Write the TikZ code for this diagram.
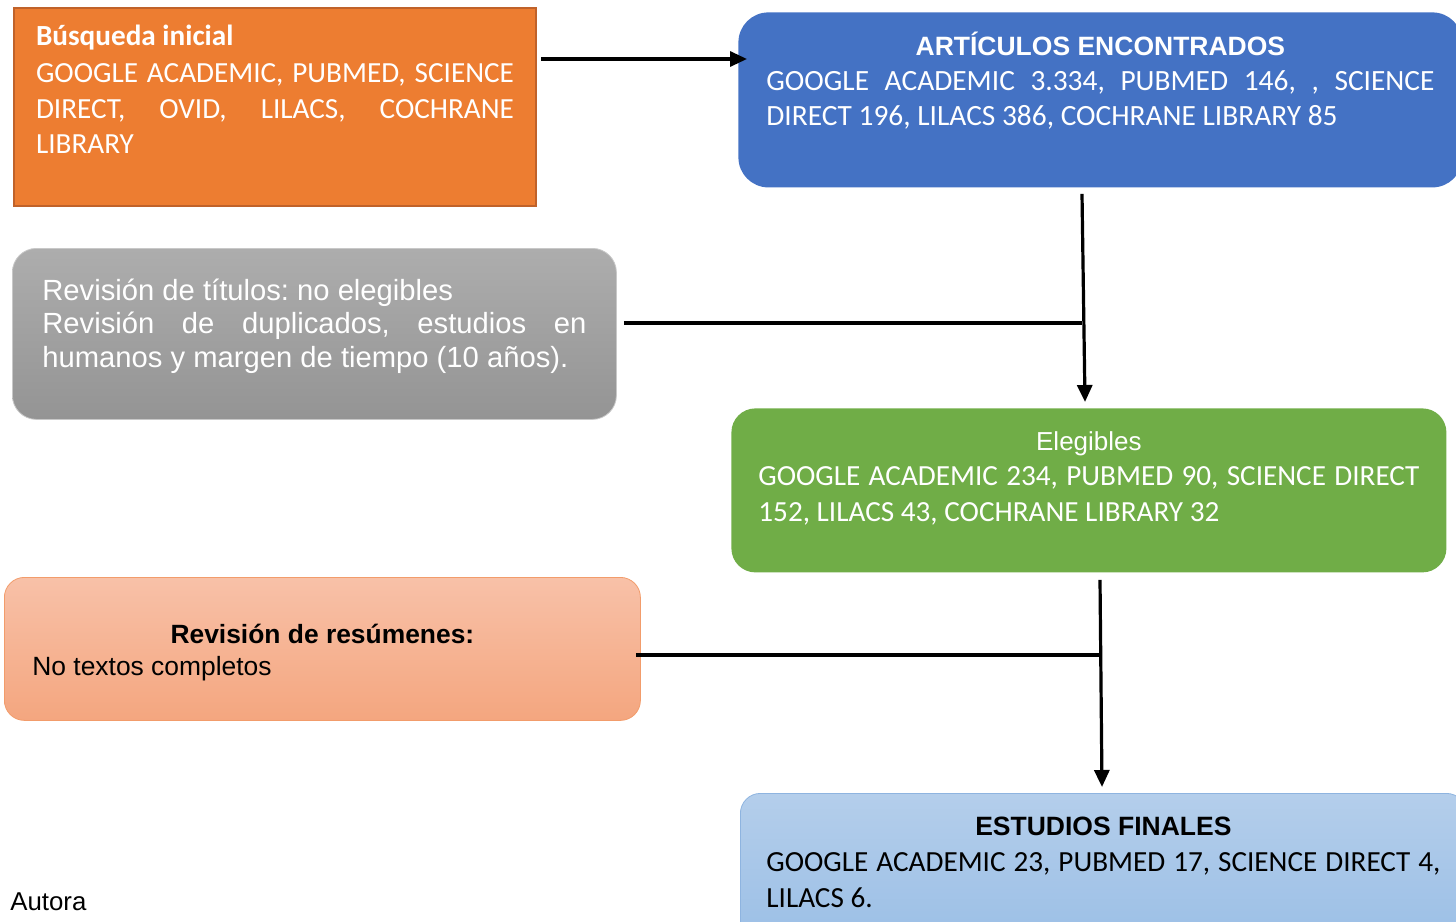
\documentclass[tikz,border=0pt]{standalone}
\usepackage{fontspec}
\usetikzlibrary{arrows.meta}
\newfontfamily\carl{Carlito}
\newfontfamily\arial{Liberation Sans}
\definecolor{orangeF}{HTML}{ED7D31}
\definecolor{orangeD}{HTML}{C0622A}
\definecolor{blueF}{HTML}{4472C4}
\definecolor{greenF}{HTML}{70AD47}
\definecolor{grayT}{HTML}{ADADAD}
\definecolor{grayB}{HTML}{949494}
\definecolor{grayE}{HTML}{C8C8C8}
\definecolor{salT}{HTML}{F8C1A8}
\definecolor{salB}{HTML}{F4A67F}
\definecolor{salE}{HTML}{F29C6B}
\definecolor{lbT}{HTML}{B4CEEB}
\definecolor{lbB}{HTML}{9BBFE6}
\definecolor{lbE}{HTML}{8EB4E0}
\tolerance=9999
\hbadness=10000
\frenchspacing

\begin{document}
\begin{tikzpicture}[x=0.5pt,y=-0.5pt,
  box/.style={anchor=north west,inner ysep=0pt,align=justify},
  flow/.style={line width=1.6pt,-{Triangle[length=8.5pt,width=7.5pt]}},
  link/.style={line width=1.6pt}]
\useasboundingbox (0,0) rectangle (1456,921);
% boxes
\node[box,fill=orangeF,draw=orangeD,line width=1pt,text=white,inner xsep=11pt,text width=239pt,text height=19pt,text depth=80pt,font=\carl\fontsize{14.6}{18}\selectfont] (busq) at (13,7)
  {{\bfseries Búsqueda inicial}\\ GOOGLE ACADEMIC, PUBMED, SCIENCE\linebreak DIRECT, OVID, LILACS, COCHRANE\linebreak LIBRARY};
\node[box,fill=blueF,rounded corners=15pt,text=white,inner xsep=14pt,text width=334pt,text height=21.5pt,text depth=66pt,font=\carl\fontsize{14.7}{17.5}\selectfont] (art) at (738,12)
  {{\centering\arial\bfseries\fontsize{13.25}{17}\selectfont ARTÍCULOS ENCONTRADOS\par} GOOGLE ACADEMIC 3.334, PUBMED 146, , SCIENCE\linebreak DIRECT 196, LILACS 386, COCHRANE LIBRARY 85};
\node[box,top color=grayT,bottom color=grayB,draw=grayE,rounded corners=12pt,text=white,inner xsep=15pt,text width=272pt,text height=26pt,text depth=59.5pt,font=\arial\fontsize{14.6}{16.75}\selectfont] (tit) at (12,248)
  {Revisión de títulos: no elegibles\\ Revisión de duplicados, estudios en\linebreak humanos y margen de tiempo (10 años).};
\node[box,fill=greenF,rounded corners=12pt,text=white,inner xsep=13.5pt,text width=330.5pt,text height=21pt,text depth=61pt,font=\carl\fontsize{14.6}{17.75}\selectfont] (eleg) at (731,408)
  {{\centering\arial\fontsize{13}{17}\selectfont Elegibles\par} GOOGLE ACADEMIC 234, PUBMED 90, SCIENCE DIRECT\linebreak 152, LILACS 43, COCHRANE LIBRARY 32};
\node[box,top color=salT,bottom color=salB,draw=salE,rounded corners=10pt,inner xsep=14pt,text width=290pt,text height=33pt,text depth=38.5pt,font=\arial\fontsize{13.2}{16}\selectfont] (res) at (4,577)
  {{\centering\bfseries Revisión de resúmenes:\par} No textos completos};
\node[box,top color=lbT,bottom color=lbB,draw=lbE,rounded corners=10pt,inner xsep=13pt,text width=337pt,text height=21pt,text depth=54pt,font=\carl\fontsize{14.6}{18}\selectfont] (fin) at (740,793)
  {{\centering\arial\bfseries\fontsize{13.25}{18}\selectfont ESTUDIOS FINALES\par} GOOGLE ACADEMIC 23, PUBMED 17, SCIENCE DIRECT 4,\linebreak LILACS 6.};
\node[anchor=base west,inner sep=0pt,font=\arial\fontsize{12.9}{15}\selectfont] (autora) at (10,910) {Autora};
% connectors
\coordinate (v1a) at ([xshift=172pt,yshift=-3pt]art.south west);
\coordinate (v1b) at ([xshift=177pt,yshift=3pt]eleg.north west);
\coordinate (v2a) at ([xshift=184.5pt,yshift=-3.5pt]eleg.south west);
\coordinate (v2b) at ([xshift=181pt,yshift=3pt]fin.north west);
\draw[flow] ([xshift=2pt,yshift=-26pt]busq.north east) -- ([xshift=4.5pt,yshift=-23.5pt]art.north west);
\draw[flow] (v1a) -- (v1b);
\draw[link] ([xshift=3.5pt,yshift=5.5pt]tit.east) -- ([yshift=5.5pt]tit.east -| v1a);
\draw[flow] (v2a) -- (v2b);
\draw[link] ([xshift=-2.5pt,yshift=-3pt]res.east) -- ([yshift=-3pt]res.east -| v2a);
\end{tikzpicture}
\end{document}
